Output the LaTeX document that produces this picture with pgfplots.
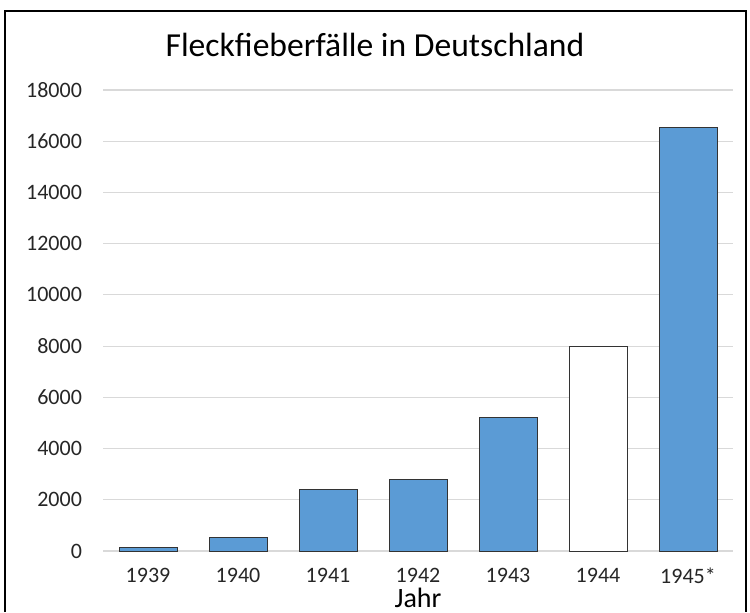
\documentclass[border=0pt]{standalone}
\usepackage{fontspec}
\setmainfont{Carlito}
\usepackage{pgfplots}
\pgfplotsset{compat=1.18}
\definecolor{barblue}{HTML}{5B9BD5}
\definecolor{gridgray}{HTML}{D9D9D9}
\begin{document}
\begin{tikzpicture}
\path[use as bounding box] (0,0) rectangle (375pt,306pt);
\draw[line width=1pt] (2.5pt,0) -- (2.5pt,300.5pt) -- (373pt,300.5pt) -- (373pt,0);
\node[font=\fontsize{16.8}{20}\selectfont] at (187.5pt,283.5pt) {Fleckfieberfälle in Deutschland};
\begin{axis}[
  at={(51.5pt,30.5pt)}, anchor=south west,
  scale only axis, width=315pt, height=230.5pt,
  xmin=-0.5, xmax=6.5, ymin=0, ymax=18000,
  ytick={0,2000,...,18000},
  xtick={0,...,6},
  xticklabels={1939,1940,1941,1942,1943,1944,1945*},
  scaled y ticks=false,
  /pgf/number format/assume math mode=true,
  /pgf/number format/.cd, 1000 sep={}, /pgfplots/.cd,
  ymajorgrids, grid style={gridgray, line width=0.6pt},
  axis line style={draw=none},
  major tick length=0pt,
  tick label style={font=\fontsize{11}{13}\selectfont, text=black!85},
  xticklabel style={yshift=-5pt},
  yticklabel style={xshift=-7pt},
  xlabel={Jahr}, xlabel style={font=\fontsize{14}{16}\selectfont, at={(axis description cs:0.5,0)}, anchor=center, yshift=-23.5pt},
  ybar, bar width=29pt, bar shift=0pt,
  clip=false,
]
\draw[gridgray, line width=0.8pt] (axis cs:-0.5,0) -- (axis cs:6.5,0);
\addplot[fill=barblue, draw=black!80, line width=0.5pt] coordinates {(0,150) (1,520) (2,2400) (3,2790) (4,5200) (6,16530)};
\addplot[fill=white, draw=black!80, line width=0.5pt] coordinates {(5,7980)};
\end{axis}
\end{tikzpicture}
\end{document}
